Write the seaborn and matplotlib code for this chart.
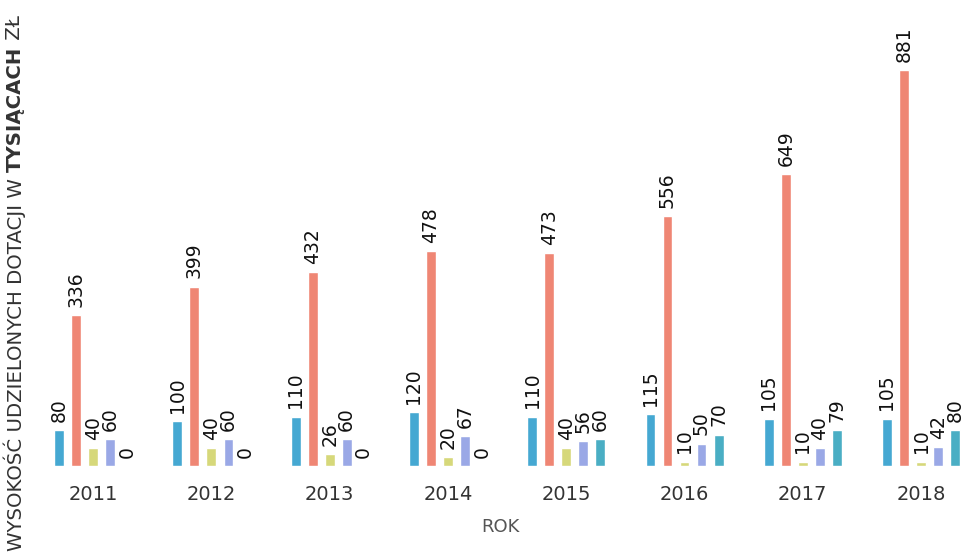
import pandas as pd
import seaborn as sns
import matplotlib.pyplot as plt

# values in thousands of zloty
years = ['2011', '2012', '2013', '2014', '2015', '2016', '2017', '2018']
series_a = [80, 100, 110, 120, 110, 115, 105, 105]
series_b = [336, 399, 432, 478, 473, 556, 649, 881]
series_c = [40, 40, 26, 20, 40, 10, 10, 10]
series_d = [60, 60, 60, 67, 56, 50, 40, 42]
series_e = [0, 0, 0, 0, 60, 70, 79, 80]
series_names = ['A', 'B', 'C', 'D', 'E']
colors = ['#45a8d2', '#ef8674', '#d6d87a', '#9aa8e6', '#4aaec4']

rows = []
for name, vals in zip(series_names, [series_a, series_b, series_c, series_d, series_e]):
    for y, v in zip(years, vals):
        rows.append({'Rok': y, 'Seria': name, 'Wartosc': v})
df = pd.DataFrame(rows)

sns.set_style('white')
plt.rcParams['font.family'] = ['DejaVu Sans']

fig = plt.figure(figsize=(9.66, 5.56), dpi=100)
ax = fig.add_axes([34 / 966, 90 / 556, (966 - 34) / 966, 466 / 556])

sns.barplot(data=df, x='Rok', y='Wartosc', hue='Seria', palette=colors,
            width=0.72, gap=0.42, legend=False, ax=ax, saturation=1)

for cont in ax.containers:
    ax.bar_label(cont, rotation=90, padding=6, fontsize=13.5, color='#111111')

ax.set_xlim(-0.5, 7.38)
ax.set_ylim(0, 1037)
ax.set_yticks([])
sns.despine(ax=ax, left=True, bottom=True)
ax.tick_params(axis='x', length=0, pad=14, labelsize=14, labelcolor='#333333')
ax.set_ylabel('')
ax.set_xlabel('ROK', fontsize=13, color='#555555', labelpad=10)

# y label with a bold word in the middle, read bottom to top
fig.canvas.draw()
renderer = fig.canvas.get_renderer()
parts = [('WYSOKOŚĆ UDZIELONYCH DOTACJI W ', 'normal'),
         ('TYSIĄCACH', 'bold'),
         (' ZŁ', 'normal')]
y_px = 5
for txt, weight in parts:
    t = fig.text(15 / 966, y_px / 556, txt, rotation=90, fontsize=14.2,
                 fontweight=weight, color='#333333', ha='center', va='bottom')
    fig.canvas.draw()
    bb = t.get_window_extent(renderer)
    y_px += bb.height

fig.savefig('out.png', dpi=100, facecolor='white')
